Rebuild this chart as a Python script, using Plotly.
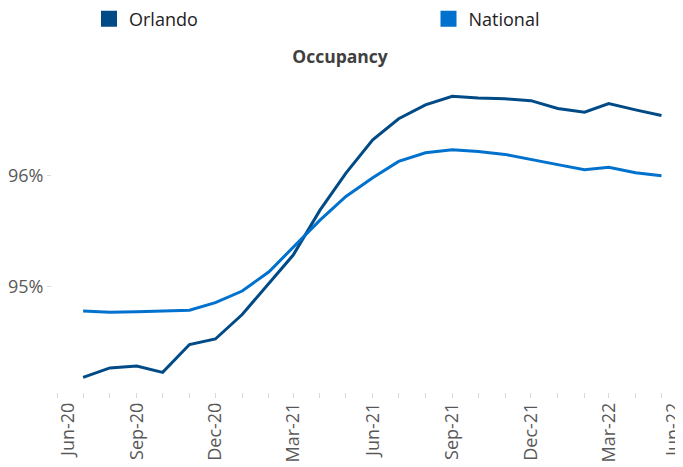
import plotly.graph_objects as go

months = ["2020-07-01", "2020-08-01", "2020-09-01", "2020-10-01", "2020-11-01", "2020-12-01",
          "2021-01-01", "2021-02-01", "2021-03-01", "2021-04-01", "2021-05-01", "2021-06-01",
          "2021-07-01", "2021-08-01", "2021-09-01", "2021-10-01", "2021-11-01", "2021-12-01",
          "2022-01-01", "2022-02-01", "2022-03-01", "2022-04-01", "2022-05-01"]

orlando = [94.185, 94.27, 94.287, 94.23, 94.48, 94.53,
           94.75, 95.033, 95.284, 95.687, 96.02, 96.32,
           96.508, 96.633, 96.71, 96.694, 96.687, 96.671,
           96.60, 96.567, 96.645, 96.588, 96.537]

national = [94.782, 94.771, 94.774, 94.78, 94.789, 94.857,
            94.961, 95.134, 95.358, 95.597, 95.81, 95.979,
            96.125, 96.203, 96.23, 96.215, 96.188, 96.146,
            96.096, 96.051, 96.072, 96.024, 95.997]

# quarterly tick labels; the first and last are nudged inward as in the original
inner_ticks = ["2020-09-01", "2020-12-01", "2021-03-01", "2021-06-01",
               "2021-09-01", "2021-12-01", "2022-03-01"]
first_tick = ["2020-06-01"]
last_tick = ["2022-06-01"]

y_tickvals = [95, 96]
y_ticktext = ["95%", "96%"]

series_names = ["Orlando", "National"]
colors = ["#004A86", "#0072CE"]
legend_ids = ["legend", "legend2"]
dummy_axes = ["x3", "x2"]

# the page body adds an 8px offset
W, H = 683, 459
x_range = ["2020-05-26", "2022-06-03"]

fig = go.Figure()
for name, vals, col in zip(series_names, [orlando, national], colors):
    fig.add_trace(go.Scatter(x=months, y=vals, mode="lines", name=name,
                             line=dict(color=col, width=3), showlegend=False,
                             hoverinfo="x+y"))
for name, col, lg, xa in zip(series_names, colors, legend_ids, dummy_axes):
    fig.add_trace(go.Scatter(x=[None], y=[None], mode="markers", name=name,
                             marker=dict(symbol="square", size=16, color=col),
                             showlegend=True, legend=lg, xaxis=xa, yaxis="y"))

tick_font = dict(family="Open Sans", size=18, color="#595959")
legend_font = dict(family="Open Sans", size=18, color="#222222")

common_x = dict(type="date", range=x_range, tickformat="%b-%y", tickangle=-90,
                showgrid=False, showline=False, zeroline=False,
                tickfont=tick_font, automargin=False, ticklabeloverflow="allow")

fig.update_layout(
    width=W, height=H,
    margin=dict(l=44, r=1, t=56, b=69, autoexpand=False),
    plot_bgcolor="white", paper_bgcolor="white",
    title=dict(text="<b>Occupancy</b>", x=332 / W, xref="container", xanchor="center",
               y=1 - 49 / H, yref="container", yanchor="middle",
               font=dict(family="Open Sans", size=17.5, color="#404040")),
    legend=dict(orientation="h", xref="container", yref="paper",
                x=81 / W, y=1.19, xanchor="left", yanchor="top",
                font=legend_font, bgcolor="rgba(0,0,0,0)"),
    legend2=dict(orientation="h", xref="container", yref="paper",
                 x=420.5 / W, y=1.19, xanchor="left", yanchor="top",
                 font=legend_font, bgcolor="rgba(0,0,0,0)"),
    xaxis=dict(**common_x, tickvals=inner_ticks,
               ticks="inside", ticklen=5, tickcolor="#d9d9d9",
               minor=dict(dtick="M1", tick0="2020-06-01", ticks="inside",
                          ticklen=5, tickcolor="#d9d9d9")),
    xaxis2=dict(**common_x, overlaying="x", side="bottom", tickvals=last_tick,
                ticks="", ticklabelshift=-15),
    xaxis3=dict(**common_x, overlaying="x", side="bottom", tickvals=first_tick,
                ticks="", ticklabelshift=11),
    yaxis=dict(range=[94, 97], tickvals=y_tickvals, ticktext=y_ticktext,
               ticks="outside", ticklen=4, tickcolor="#d9d9d9",
               showgrid=False, showline=False, zeroline=False,
               tickfont=tick_font, ticklabelstandoff=0, automargin=False),
)

fig.write_html("out.html")
